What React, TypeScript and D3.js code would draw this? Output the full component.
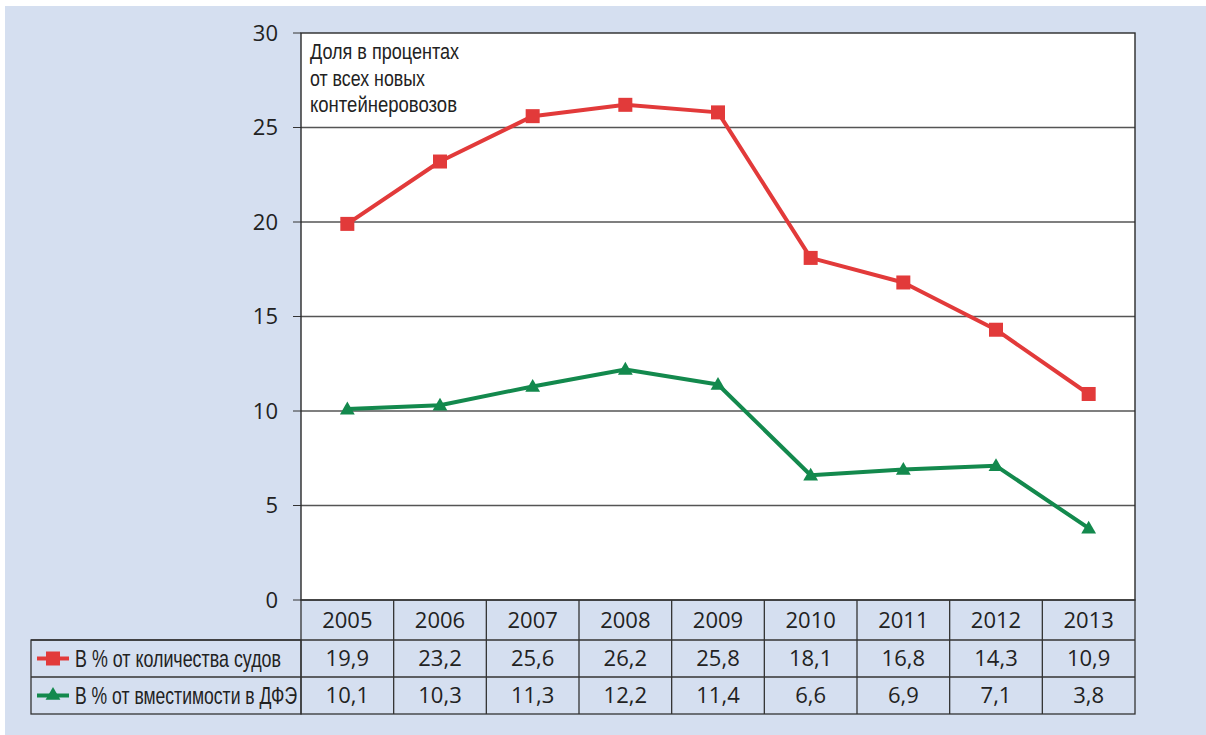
import React from "react";
import * as d3 from "d3";

const years = ["2005", "2006", "2007", "2008", "2009", "2010", "2011", "2012", "2013"];
const byShips = [19.9, 23.2, 25.6, 26.2, 25.8, 18.1, 16.8, 14.3, 10.9];
const byTeu = [10.1, 10.3, 11.3, 12.2, 11.4, 6.6, 6.9, 7.1, 3.8];
const yTicks = [0, 5, 10, 15, 20, 25, 30];
const seriesNames = ["В % от количества судов", "В % от вместимости в ДФЭ"];
const noteLines = ["Доля в процентах", "от всех новых", "контейнеровозов"];

// rendered widths of the condensed-font texts
const seriesNameWidths = [206, 222];
const noteWidths = [149, 115, 147];
const SX = 0.78; // horizontal condensing factor

const W = 1206, H = 735;
const L = 301, R = 1135, T = 33, B = 600;
const RED = "#e23a3a", GREEN = "#13894d";
const numFont = "'Open Sans', 'Noto Sans', sans-serif";
const narrowFont = "'Liberation Sans', 'Arial', sans-serif";

function Narrow({ x, y, w, size, children, dy }: { x: number; y: number; w: number; size: number; children: string; dy?: string }) {
  return (
    <g transform={`translate(${x},${y}) scale(${SX},1)`}>
      <text x={0} y={0} dy={dy} fontFamily={narrowFont} fontSize={size} fill="#222"
        textLength={w / SX} lengthAdjust="spacingAndGlyphs">{children}</text>
    </g>
  );
}

export default function App() {
  const x = d3.scaleBand<string>().domain(years).range([L, R]).padding(0);
  const y = d3.scaleLinear().domain([0, 30]).range([B, T]);
  const cx = (d: string) => (x(d) as number) + x.bandwidth() / 2;
  const line = d3.line<number>().x((_, i) => cx(years[i])).y((v) => y(v));
  const tri = d3.symbol().type(d3.symbolTriangle).size(95)();
  const rowTop = [600, 640, 677, 714];
  const fmt = (v: number) => v.toFixed(1).replace(".", ",");
  const tableLeft = 31;

  const rows = [
    { vals: byShips, color: RED, marker: "sq" },
    { vals: byTeu, color: GREEN, marker: "tri" },
  ];

  return (
    <svg width={W} height={H} style={{ position: "absolute", left: 0, top: 0 }}>
      <rect x={0} y={0} width={W} height={H} fill="#ffffff" />
      <rect x={5} y={6} width={W - 5} height={H - 6} fill="#d5dff0" />
      <rect x={L} y={T} width={R - L} height={B - T} fill="#ffffff" />
      {yTicks.filter((t) => t > 0 && t < 30).map((t) => (
        <line key={t} x1={L} x2={R} y1={y(t)} y2={y(t)} stroke="#555" strokeWidth={1.4} />
      ))}
      {yTicks.map((t) => (
        <g key={"t" + t}>
          <line x1={L - 8} x2={L} y1={y(t)} y2={y(t)} stroke="#333" strokeWidth={1} />
          <text x={278} y={y(t)} dy="0.35em" textAnchor="end" fontFamily={numFont} fontSize={22} fill="#222">{t}</text>
        </g>
      ))}
      <rect x={L} y={T} width={R - L} height={B - T} fill="none" stroke="#2a2a2a" strokeWidth={1.4} />
      {noteLines.map((s, i) => (
        <Narrow key={s} x={310} y={59 + i * 26.5} w={noteWidths[i]} size={22}>{s}</Narrow>
      ))}
      {rows.map((r, ri) => (
        <g key={"s" + ri}>
          <path d={line(r.vals) || ""} fill="none" stroke={r.color} strokeWidth={4} strokeLinejoin="round" />
          {r.vals.map((v, i) =>
            r.marker === "sq" ? (
              <rect key={i} x={cx(years[i]) - 7} y={y(v) - 7} width={14} height={14} fill={r.color} />
            ) : (
              <path key={i} d={tri || ""} transform={`translate(${cx(years[i])},${y(v) + 1})`} fill={r.color} />
            )
          )}
        </g>
      ))}
      {/* table */}
      <rect x={tableLeft} y={rowTop[1]} width={L - tableLeft} height={rowTop[3] - rowTop[1]} fill="none" stroke="#333" strokeWidth={1.3} />
      <rect x={L} y={rowTop[0]} width={R - L} height={rowTop[3] - rowTop[0]} fill="none" stroke="#333" strokeWidth={1.3} />
      {[rowTop[1], rowTop[2]].map((yy) => (
        <line key={yy} x1={tableLeft} x2={R} y1={yy} y2={yy} stroke="#333" strokeWidth={1.3} />
      ))}
      {years.slice(1).map((d) => (
        <line key={"c" + d} x1={x(d)} x2={x(d)} y1={rowTop[0]} y2={rowTop[3]} stroke="#333" strokeWidth={1.3} />
      ))}
      {years.map((d) => (
        <text key={"y" + d} x={cx(d)} y={(rowTop[0] + rowTop[1]) / 2} dy="0.36em" textAnchor="middle" fontFamily={numFont} fontSize={22} fill="#222">{d}</text>
      ))}
      {rows.map((r, ri) => {
        const my = (rowTop[ri + 1] + rowTop[ri + 2]) / 2;
        return (
          <g key={"r" + ri}>
            <line x1={37} x2={69} y1={my} y2={my} stroke={r.color} strokeWidth={4} />
            {r.marker === "sq" ? (
              <rect x={46} y={my - 7} width={14} height={14} fill={r.color} />
            ) : (
              <path d={tri || ""} transform={`translate(53,${my})`} fill={r.color} />
            )}
            <Narrow x={75} y={my} dy="0.36em" w={seriesNameWidths[ri]} size={23}>{seriesNames[ri]}</Narrow>
            {r.vals.map((v, i) => (
              <text key={i} x={cx(years[i])} y={my} dy="0.36em" textAnchor="middle" fontFamily={numFont} fontSize={22} fill="#222">{fmt(v)}</text>
            ))}
          </g>
        );
      })}
    </svg>
  );
}
